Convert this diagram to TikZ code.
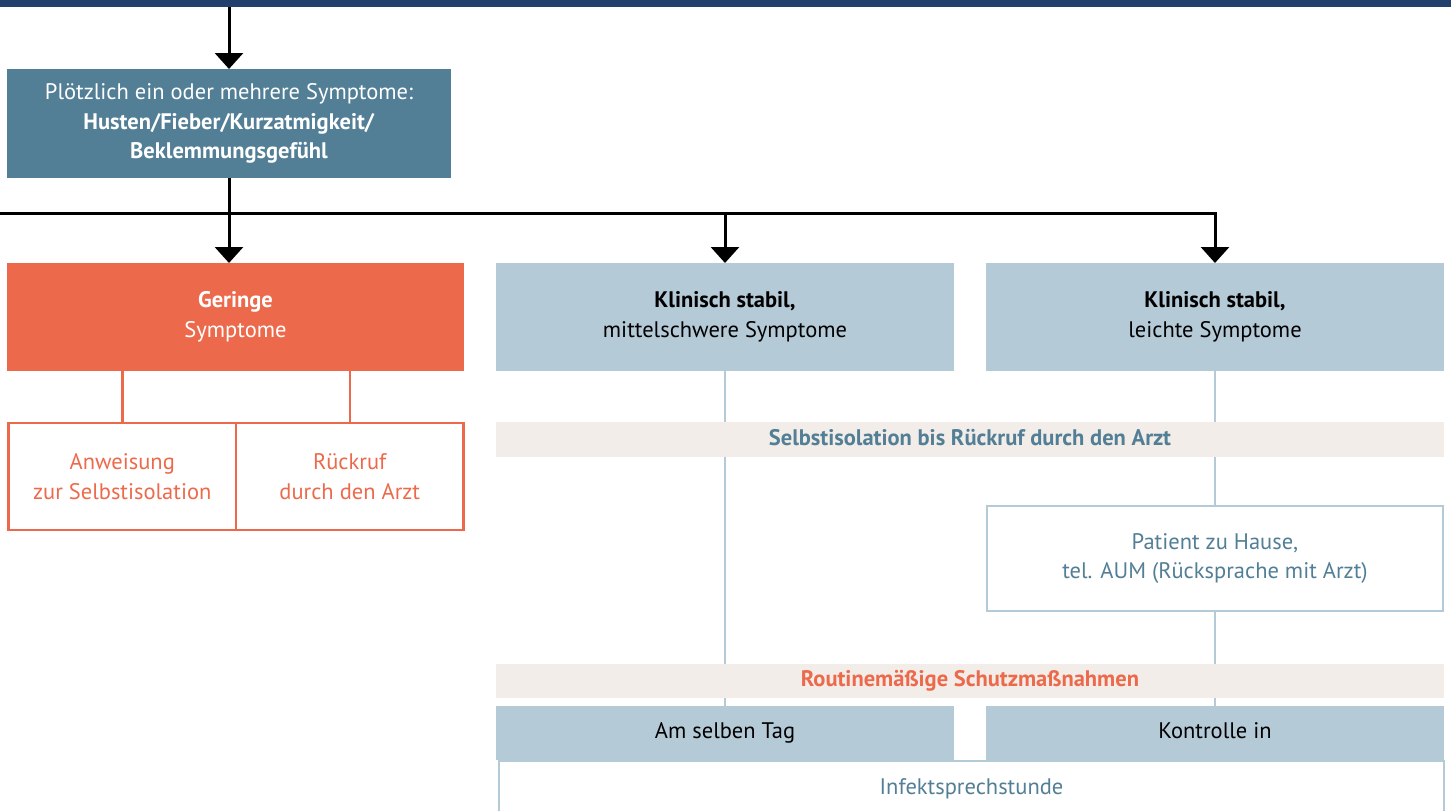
\documentclass[tikz,border=0pt]{standalone}
\usepackage{fontspec}
\setmainfont{PT Sans}
\usepackage{tikz}
\usetikzlibrary{positioning, arrows.meta, backgrounds}
\definecolor{navy}{HTML}{233F6B}
\definecolor{petrol}{HTML}{527F96}
\definecolor{coral}{HTML}{EC6A4B}
\definecolor{iceblue}{HTML}{B5CAD7}
\definecolor{sand}{HTML}{F2EDE8}
\tikzset{
	every text node part/.style= {
		align=center
	},
	every node/.style={inner sep=0, outer sep=0, font=\fontsize{22.5}{29.5}\selectfont},
	box/.style= {
		rectangle,
		anchor=north west
	},
	oneline/.style={text height=16pt, text depth=5pt},
	symptom/.style={box, fill=petrol, text=white, minimum width=444pt, minimum height=109pt},
	stage/.style={box, minimum width=458pt, minimum height=108pt},
	advice/.style={box, draw=coral, line width=2.5pt, text=coral, minimum width=227.5pt, minimum height=107pt},
	band/.style={box, oneline, fill=sand, minimum width=948pt},
	homebox/.style={box, draw=iceblue, line width=2.5pt, fill=white, text=petrol},
	slot/.style={box, oneline, fill=iceblue, minimum width=458pt, minimum height=54pt},
	arr/.style={line width=3pt, -{Triangle[width=28pt, length=16pt]}},
	twig/.style={coral, line width=2.5pt},
	thread/.style={iceblue, line width=2pt},
}

\begin{document}
\begin{tikzpicture}[x=1pt, y=-1pt]
		\node (bar) [box, fill=navy, minimum width=1451pt, minimum height=7pt] at (0,0) {};
		
		\node (sympt) [symptom] at (7,69) {Plötzlich ein oder mehrere Symptome:\\ \textbf{Husten/Fieber/Kurzatmigkeit/}\\ \textbf{Beklemmungsgefühl}};
		
		\node (gering) [stage, fill=coral, text=white, minimum width=457pt] at (7,263) {\textbf{Geringe}\\ Symptome};
		\node (mittel) [stage, fill=iceblue] at (496,263) {\textbf{Klinisch stabil,}\\ mittelschwere Symptome};
		\node (leicht) [stage, fill=iceblue, right=32pt of mittel] {\textbf{Klinisch stabil,}\\ leichte Symptome};
		
		\node (anw) [advice] at (8.5,423) {Anweisung\\ zur Selbstisolation};
		\node (rueck) [advice, right=0pt of anw] {Rückruf\\ durch den Arzt};
		
		\node (isol) [band, text=petrol, minimum height=35pt] at (496,422) {\textbf{Selbstisolation bis Rückruf durch den Arzt}};
		\node (patient) [homebox, minimum width=456pt, minimum height=105pt] at (987,506) {Patient zu Hause,\\ tel. AUM (Rücksprache mit Arzt)};
		\node (routine) [band, text=coral, minimum height=34pt] at (496,664) {\textbf{Routinemäßige Schutzmaßnahmen}};
		
		\node (sametag) [slot] at (496,706) {Am selben Tag};
		\node (kontrolle) [slot, right=32pt of sametag] {Kontrolle in};
		\node (infekt) [homebox, oneline, minimum width=945pt, minimum height=56pt] at (499,761) {Infektsprechstunde};
		
		\coordinate (rail) at (0,213);
		
		\draw[arr] (sympt.north |- bar.south) to (sympt.north);
		\draw[arr] (sympt.south) to (sympt.south |- gering.north);
		\draw[arr] (rail) -| (leicht.north);
		\draw[arr] (mittel.north |- rail) to (mittel.north);
		
		\draw[twig] (anw.north |- gering.south) to (anw.north);
		\draw[twig] (rueck.north |- gering.south) to (rueck.north);
		
		\begin{scope}[on background layer]
		\draw[thread] (mittel.south) to (sametag.north);
		\draw[thread] (leicht.south) to (patient.north);
		\draw[thread] (patient.south) to (kontrolle.north);
		\end{scope}
		
		\pgfresetboundingbox
		\useasboundingbox (0,0) rectangle (1451,811);
\end{tikzpicture}
\end{document}
